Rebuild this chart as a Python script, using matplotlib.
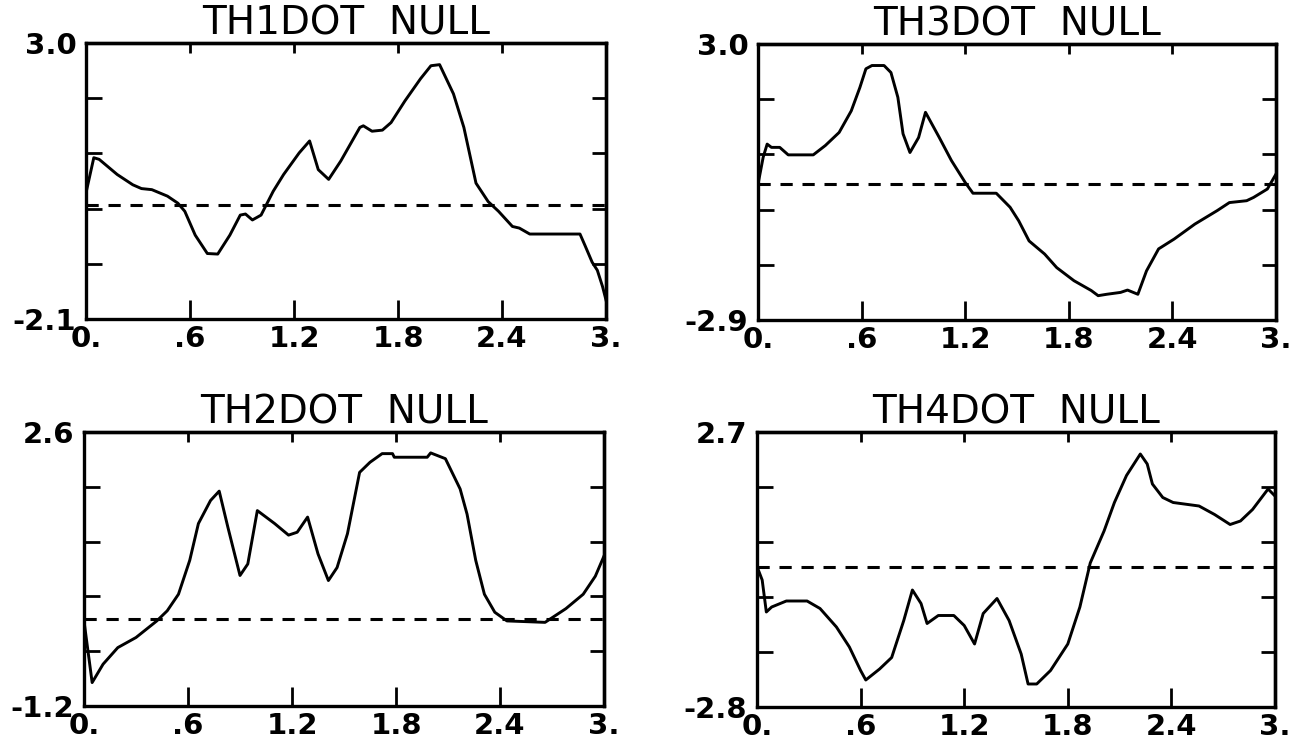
import numpy as np
from matplotlib import pyplot as plt

# TH1DOT NULL
t1 = [0.0, 0.045, 0.076, 0.18, 0.27, 0.32, 0.38, 0.47, 0.53, 0.57, 0.63, 0.70, 0.76, 0.83, 0.89,
      0.92, 0.96, 1.01, 1.08, 1.14, 1.23, 1.29, 1.34, 1.40, 1.47, 1.58, 1.60, 1.65, 1.71, 1.76,
      1.84, 1.93, 1.99, 2.04, 2.12, 2.18, 2.25, 2.32, 2.38, 2.46, 2.50, 2.56, 2.85, 2.88, 2.92,
      2.95, 2.98, 3.0]
th1 = [0.23, 0.88, 0.85, 0.57, 0.38, 0.31, 0.29, 0.17, 0.04, -0.11, -0.55, -0.89, -0.90, -0.55,
       -0.18, -0.16, -0.27, -0.18, 0.26, 0.57, 0.97, 1.19, 0.66, 0.48, 0.82, 1.44, 1.47, 1.37,
       1.39, 1.53, 1.93, 2.34, 2.58, 2.60, 2.06, 1.44, 0.41, 0.07, -0.11, -0.39, -0.42, -0.53,
       -0.53, -0.75, -1.05, -1.2, -1.5, -1.75]

# TH3DOT NULL
t3 = [0.0, 0.03, 0.053, 0.078, 0.126, 0.175, 0.32, 0.39, 0.47, 0.54, 0.59, 0.625, 0.66, 0.73,
      0.77, 0.81, 0.84, 0.88, 0.93, 0.97, 1.05, 1.12, 1.20, 1.245, 1.38, 1.46, 1.51, 1.57, 1.66,
      1.73, 1.83, 1.93, 1.97, 2.02, 2.10, 2.14, 2.20, 2.25, 2.32, 2.41, 2.53, 2.66, 2.73, 2.83,
      2.87, 2.95, 3.0]
th3 = [0.0, 0.58, 0.86, 0.79, 0.79, 0.63, 0.63, 0.83, 1.11, 1.57, 2.07, 2.47, 2.54, 2.54, 2.39,
       1.86, 1.08, 0.68, 1.0, 1.54, 1.0, 0.51, 0.04, -0.19, -0.19, -0.49, -0.78, -1.21, -1.49,
       -1.78, -2.06, -2.27, -2.38, -2.35, -2.31, -2.26, -2.35, -1.85, -1.38, -1.17, -0.85, -0.56,
       -0.39, -0.35, -0.28, -0.10, 0.22]

# TH2DOT NULL
t2 = [0.0, 0.047, 0.11, 0.195, 0.30, 0.42, 0.48, 0.545, 0.61, 0.66, 0.73, 0.78, 0.83, 0.90,
      0.945, 1.0, 1.10, 1.18, 1.23, 1.29, 1.35, 1.41, 1.46, 1.52, 1.59, 1.65, 1.72, 1.78, 1.79,
      1.98, 2.0, 2.085, 2.17, 2.21, 2.26, 2.31, 2.37, 2.44, 2.66, 2.78, 2.88, 2.95, 3.0]
th2 = [-0.02, -0.875, -0.62, -0.39, -0.25, -0.02, 0.12, 0.35, 0.82, 1.33, 1.65, 1.78, 1.28, 0.61,
       0.77, 1.51, 1.33, 1.17, 1.21, 1.42, 0.91, 0.54, 0.72, 1.19, 2.04, 2.18, 2.30, 2.30, 2.25,
       2.25, 2.31, 2.23, 1.81, 1.46, 0.82, 0.35, 0.10, -0.02, -0.04, 0.15, 0.35, 0.6, 0.88]

# TH4DOT NULL
t4 = [0.0, 0.03, 0.054, 0.085, 0.17, 0.29, 0.365, 0.46, 0.535, 0.60, 0.63, 0.71, 0.78, 0.85,
      0.90, 0.95, 0.985, 1.05, 1.14, 1.20, 1.26, 1.31, 1.39, 1.46, 1.53, 1.57, 1.62, 1.70, 1.80,
      1.87, 1.93, 2.01, 2.07, 2.14, 2.22, 2.26, 2.29, 2.35, 2.41, 2.56, 2.65, 2.74, 2.80, 2.87,
      2.96, 3.0]
th4 = [0.01, -0.26, -0.90, -0.80, -0.68, -0.68, -0.83, -1.20, -1.60, -2.07, -2.26, -2.04, -1.81,
       -1.07, -0.46, -0.73, -1.13, -0.97, -0.97, -1.17, -1.54, -0.93, -0.63, -1.07, -1.74, -2.34,
       -2.34, -2.07, -1.54, -0.80, 0.08, 0.72, 1.29, 1.83, 2.26, 2.06, 1.66, 1.39, 1.29, 1.22,
       1.05, 0.85, 0.92, 1.15, 1.56, 1.42]

titles = ["TH1DOT  NULL", "TH3DOT  NULL", "TH2DOT  NULL", "TH4DOT  NULL"]
ylims = [(-2.1, 3.0), (-2.9, 3.0), (-1.2, 2.6), (-2.8, 2.7)]
ylabs = [("-2.1", "3.0"), ("-2.9", "3.0"), ("-1.2", "2.6"), ("-2.8", "2.7")]
xticks = [0, 0.6, 1.2, 1.8, 2.4, 3.0]
xticklabels = ["0.", ".6", "1.2", "1.8", "2.4", "3."]

# axes boxes in figure pixels: left, top, right, bottom
W, H = 1308, 742
boxes = [(86, 43, 606, 319), (758, 44, 1276, 320), (84, 432, 604, 706), (757, 432, 1275, 707)]

fig = plt.figure(figsize=(W / 100, H / 100), dpi=100)
lw = 2.2

for (t, y), title, ylim, ylab, box in zip([(t1, th1), (t3, th3), (t2, th2), (t4, th4)],
                                          titles, ylims, ylabs, boxes):
    l, tp, r, b = box
    ax = fig.add_axes([l / W, 1 - b / H, (r - l) / W, (b - tp) / H])
    ax.plot(t, y, color="black", lw=2.1)
    ax.axhline(0, color="black", lw=lw, dashes=(4.0, 3.2))
    ax.set_xlim(0, 3)
    ax.set_ylim(*ylim)

    yt = np.linspace(ylim[0], ylim[1], 6)
    ax.set_yticks(yt)
    ax.set_yticklabels([ylab[0], "", "", "", "", ylab[1]])
    ax.set_xticks(xticks)
    ax.set_xticklabels(xticklabels)
    ax.tick_params(axis="x", direction="in", length=13.5, width=2.0, pad=4,
                   labelsize=21)
    ax.tick_params(axis="y", direction="in", length=11.5, width=2.0, pad=7,
                   labelsize=21)
    for lab in ax.get_xticklabels() + ax.get_yticklabels():
        lab.set_fontweight("bold")
    for s in ax.spines.values():
        s.set_linewidth(2.4)

    # shorter ticks on top and right
    top = ax.secondary_xaxis("top")
    top.set_xticks(xticks)
    top.set_xticklabels([])
    top.tick_params(direction="in", length=7, width=2.0)
    top.spines["top"].set_linewidth(2.4)
    right = ax.secondary_yaxis("right")
    right.set_yticks(yt)
    right.set_yticklabels([])
    right.tick_params(direction="in", length=10, width=2.0)
    right.spines["right"].set_linewidth(2.4)

    ax.set_title(title, fontsize=28, pad=3)

plt.savefig("out.png", dpi=100)
